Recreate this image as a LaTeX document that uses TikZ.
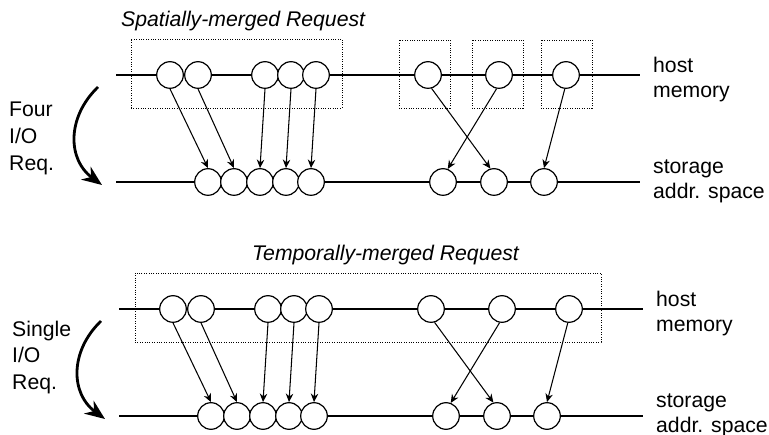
\documentclass[tikz,border=0pt]{standalone}
\usepackage{fontspec}
\setmainfont{Liberation Sans}
\usetikzlibrary{arrows.meta}
\tikzset{
  blob/.style={circle, draw, fill=white, line width=1.2pt, minimum size=26.6pt, inner sep=0pt},
  axisline/.style={line width=1.3pt},
  link/.style={line width=1.05pt, -{Stealth[length=8.5pt,width=7.5pt]}},
  group/.style={draw, line width=0.8pt, dash pattern=on 1pt off 1.4pt},
  lab/.style={inner sep=0pt, anchor=base west, font=\fontsize{21.2}{25}\selectfont},
  ttl/.style={inner sep=0pt, anchor=base west, font=\fontsize{21.2}{25}\selectfont\itshape},
  curvearrow/.style={line width=2.8pt, -{Stealth[length=20pt,width=16pt]}}
}
\begin{document}
\begin{tikzpicture}[x=1pt,y=-1pt]
\useasboundingbox (0,0) rectangle (769,435);
% dotted groups (drawn first)
\node[group, minimum width=211pt, minimum height=69pt, inner sep=0pt] (ga) at (236.5,73.5) {};
\node[group, minimum width=51pt, minimum height=68pt, inner sep=0pt] (gb) at (424.5,74) {};
\node[group, minimum width=51pt, minimum height=68pt, inner sep=0pt] (gc) at (497.5,74) {};
\node[group, minimum width=51pt, minimum height=68pt, inner sep=0pt] (gd) at (566.5,74) {};
\node[group, minimum width=466pt, minimum height=69pt, inner sep=0pt] (ge) at (368,307.5) {};
\foreach \p/\dx/\dy in {a/0/0, b/3/234}{
  \begin{scope}[shift={(\dx,\dy)}]
    \coordinate (hl\p) at (116,75);
    \coordinate (hr\p) at (640,75);
    \coordinate (sl\p) at (116,182);
    \coordinate (sr\p) at (640,182);
    \draw[axisline] (hl\p) -- (hr\p);
    \draw[axisline] (sl\p) -- (sr\p);
    \node[blob] (h1\p) at (170,75) {};
    \node[blob] (h2\p) at (198,75) {};
    \node[blob] (h3\p) at (265,75) {};
    \node[blob] (h4\p) at (291,75) {};
    \node[blob] (h5\p) at (316,75) {};
    \node[blob] (h6\p) at (428,75) {};
    \node[blob] (h7\p) at (499,75) {};
    \node[blob] (h8\p) at (566,75) {};
    \node[blob] (s1\p) at (208,182) {};
    \node[blob] (s2\p) at (234,182) {};
    \node[blob] (s3\p) at (260,182) {};
    \node[blob] (s4\p) at (286,182) {};
    \node[blob] (s5\p) at (311,182) {};
    \node[blob] (s6\p) at (443,182) {};
    \node[blob] (s7\p) at (494,182) {};
    \node[blob] (s8\p) at (544,182) {};
    \draw[link] (h1\p.south) -- (s1\p.north);
    \draw[link] (h2\p.south) -- (s2\p.north);
    \draw[link] (h3\p.south) -- (s3\p.north);
    \draw[link] (h4\p.south) -- (s4\p.north);
    \draw[link] (h5\p.south) -- (s5\p.north);
    \draw[link] (h6\p.-75) -- (s7\p.105);
    \draw[link] (h7\p.-100) -- (s6\p.70);
    \draw[link] (h8\p.-95) -- (s8\p.north);
    \node[lab] (host\p) at (653,73) {host};
    \node[lab] (mem\p) at (653,98) {memory};
    \node[lab] (sto\p) at (653,174) {storage};
    \node[lab] (addr\p) at (653,199) {addr. space};
    \coordinate (cs\p) at (98,87);
    \coordinate (ce\p) at (102,185);
    \draw[curvearrow] (cs\p) .. controls (66,118) and (68,160) .. (ce\p);
  \end{scope}
}
\node[ttl] (t1) at (121,27) {Spatially-merged Request};
\node[ttl] (t2) at (252,261) {Temporally-merged Request};
\node[lab] (l1) at (9,117) {Four};
\node[lab] (l2) at (9,144) {I/O};
\node[lab] (l3) at (9,171) {Req.};
\node[lab] (l4) at (12,337) {Single};
\node[lab] (l5) at (12,363) {I/O};
\node[lab] (l6) at (12,390) {Req.};
\end{tikzpicture}
\end{document}
